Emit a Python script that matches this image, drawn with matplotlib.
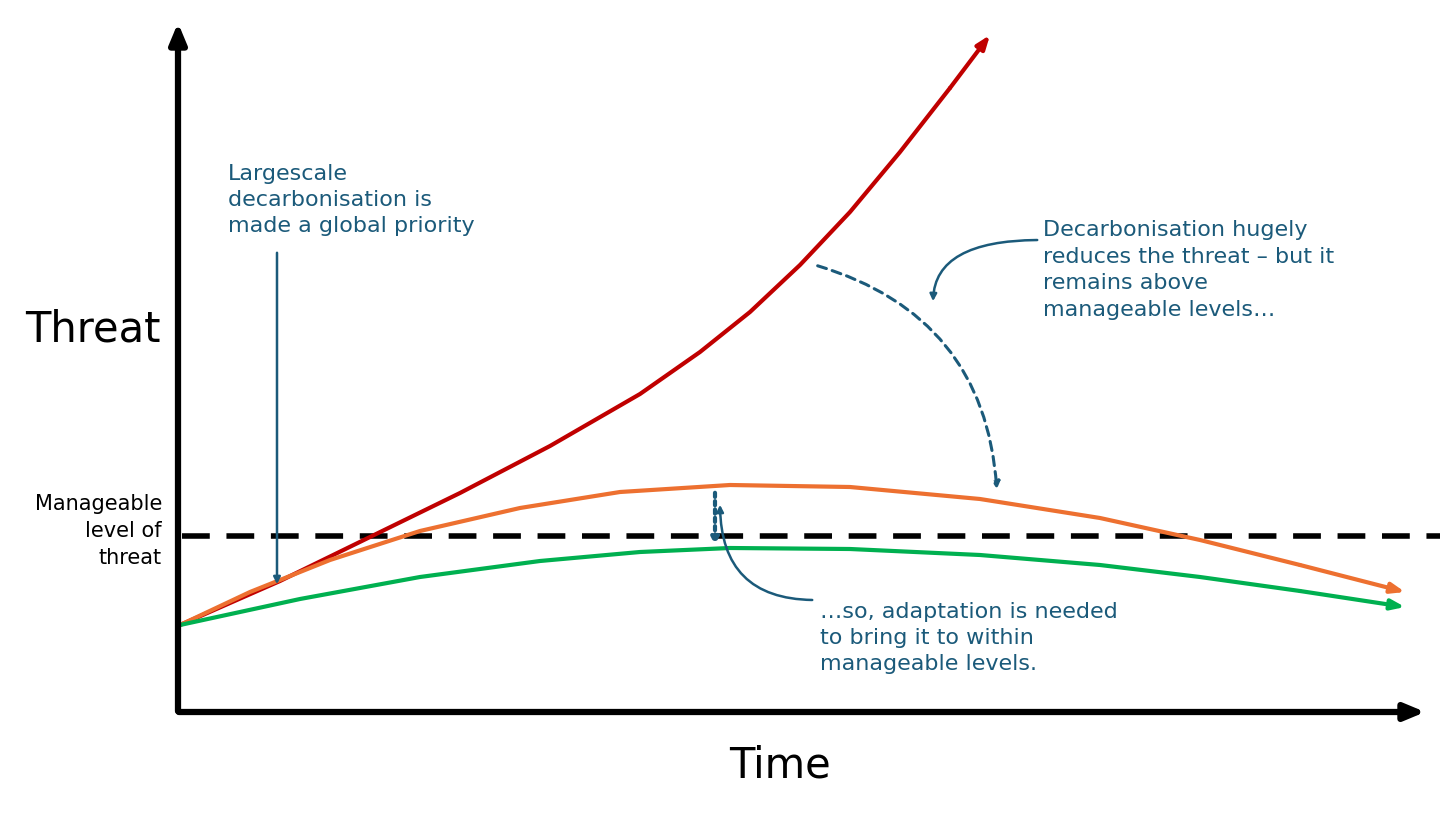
import matplotlib.pyplot as plt

# curve points (x, y), in image pixels
red_x = [180, 280, 370, 460, 550, 640, 700, 750, 800, 850, 900, 950, 990]
red_y = [625, 581, 537, 493, 446, 394, 352, 312, 265, 212, 152, 88, 35]
orange_x = [180, 250, 330, 420, 520, 620, 730, 850, 980, 1100, 1200, 1300, 1405]
orange_y = [625, 592, 560, 531, 508, 492, 485, 487, 499, 518, 540, 565, 592]
green_x = [180, 300, 420, 540, 640, 730, 850, 980, 1100, 1200, 1300, 1405]
green_y = [625, 599, 577, 561, 552, 548, 549, 555, 565, 577, 591, 607]
manage_y = 536

TXT = '#1b5a7a'

fig = plt.figure(figsize=(14.56, 8.19), dpi=100)
ax = fig.add_axes([0, 0, 1, 1])
ax.set_xlim(0, 1456)
ax.set_ylim(819, 0)
ax.axis('off')

# axes arrows
ax.annotate('', xy=(178, 20), xytext=(178, 714),
            arrowprops=dict(arrowstyle='-|>,head_length=1.2,head_width=0.5', lw=4.5, color='black'))
ax.annotate('', xy=(1428, 712), xytext=(176, 712),
            arrowprops=dict(arrowstyle='-|>,head_length=1.2,head_width=0.5', lw=4.5, color='black'))

ax.plot([182, 1440], [manage_y, manage_y], color='black', lw=4, dashes=(5, 3))

for xs, ys, c in [(red_x, red_y, '#c00000'), (orange_x, orange_y, '#ed7030'), (green_x, green_y, '#00b050')]:
    ax.plot(xs[:-1], ys[:-1], color=c, lw=3, solid_capstyle='round')
    ax.annotate('', xy=(xs[-1], ys[-1]), xytext=(xs[-2], ys[-2]),
                arrowprops=dict(arrowstyle='-|>,head_length=0.8,head_width=0.3', lw=3, color=c,
                                shrinkA=0, shrinkB=0))

ax.text(25, 330, 'Threat', fontsize=30, va='center', ha='left')
ax.text(780, 765, 'Time', fontsize=30, va='center', ha='center')
ax.text(162, 531, 'Manageable\nlevel of\nthreat', fontsize=15, ha='right', va='center', linespacing=1.45)

ax.text(228, 200, 'Largescale\ndecarbonisation is\nmade a global priority', fontsize=16, color=TXT,
        va='center', linespacing=1.4)
ax.annotate('', xy=(277, 587), xytext=(277, 250),
            arrowprops=dict(arrowstyle='-|>', lw=1.8, color=TXT))

ax.text(1043, 270, 'Decarbonisation hugely\nreduces the threat \u2013 but it\nremains above\nmanageable levels\u2026',
        fontsize=16, color=TXT, va='center', linespacing=1.4)
ax.annotate('', xy=(997, 492), xytext=(815, 265),
            arrowprops=dict(arrowstyle='-|>', lw=2.2, color=TXT, ls=(0, (3, 2)),
                            connectionstyle='arc3,rad=-0.35'))
ax.annotate('', xy=(933, 304), xytext=(1040, 240),
            arrowprops=dict(arrowstyle='-|>', lw=1.8, color=TXT,
                            connectionstyle='angle3,angleA=180,angleB=90'))

ax.text(820, 638, '\u2026so, adaptation is needed\nto bring it to within\nmanageable levels.',
        fontsize=16, color=TXT, va='center', linespacing=1.4)
ax.annotate('', xy=(715, 548), xytext=(715, 490),
            arrowprops=dict(arrowstyle='-|>', lw=3, color=TXT, ls=(0, (1, 1))))
ax.annotate('', xy=(720, 502), xytext=(815, 600),
            arrowprops=dict(arrowstyle='-|>', lw=1.8, color=TXT,
                            connectionstyle='angle3,angleA=180,angleB=90'))

fig.savefig('out.png', dpi=100)
